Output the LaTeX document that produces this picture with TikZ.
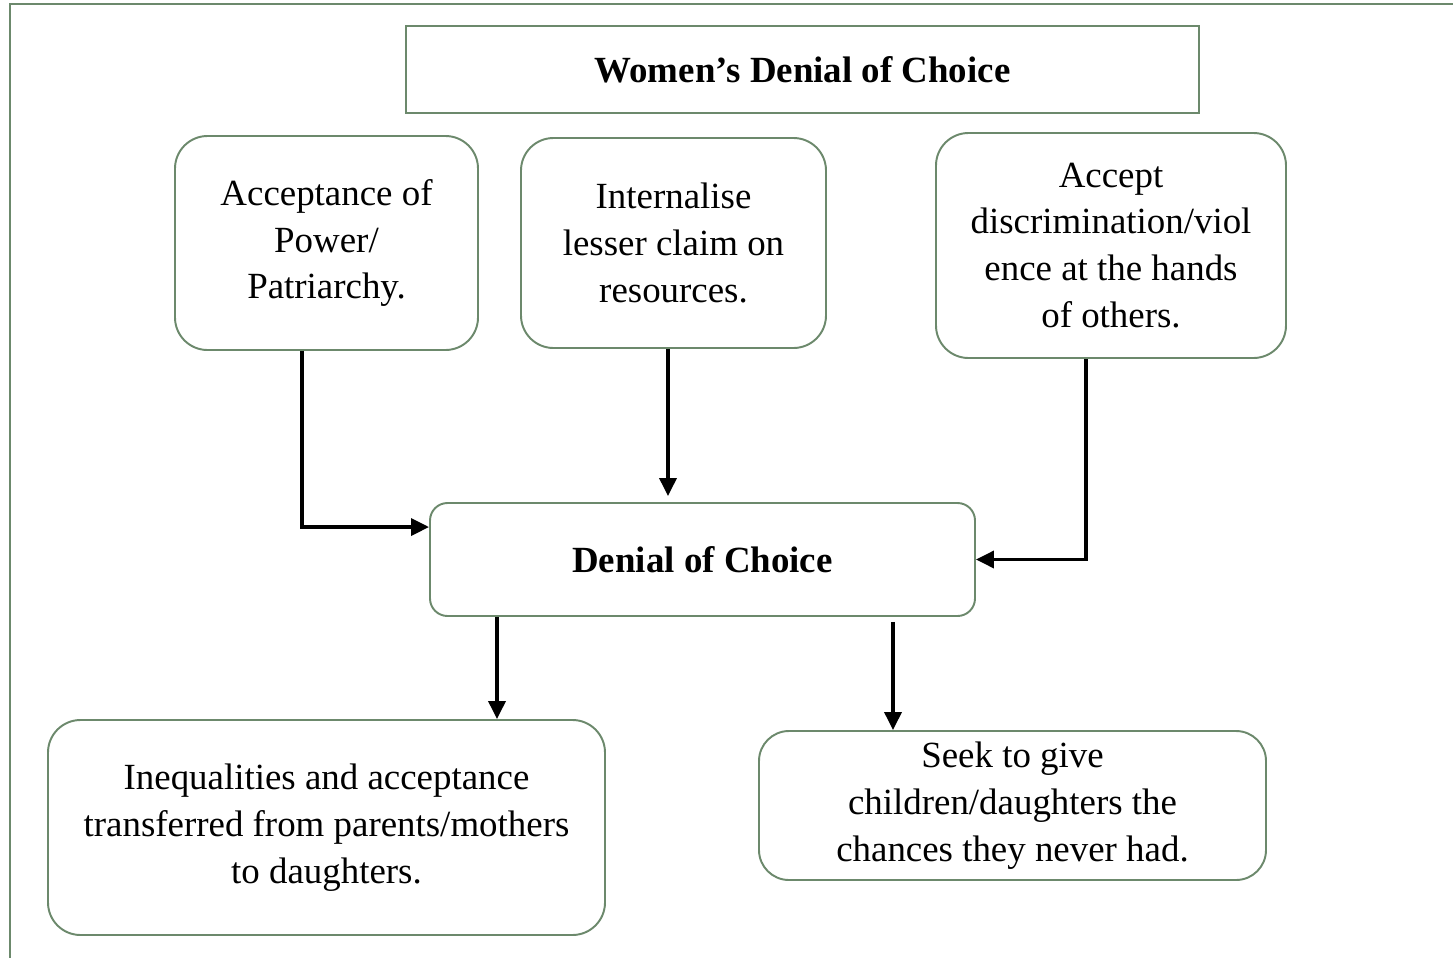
\documentclass[tikz,border=0pt]{standalone}
\usepackage{fontspec}
\setmainfont{Liberation Serif}
\usepackage{tikz}
\usetikzlibrary{arrows.meta,positioning,calc}
\definecolor{boxgreen}{RGB}{108,137,108}

\begin{document}
\begin{tikzpicture}[
		box/.style={draw=boxgreen, line width=1.1pt, rounded corners=0.65cm, align=center, inner sep=0pt,
			font=\fontsize{21}{26.7}\selectfont},
		titlebox/.style={draw=boxgreen, line width=1.1pt, align=center, inner sep=0pt,
			font=\fontsize{21}{26.7}\selectfont\bfseries},
		arr/.style={line width=2pt, -{Triangle[length=0.36cm,width=0.34cm]}}
	]
			\useasboundingbox (0,0) rectangle (29.06,-19.16);
			\draw[boxgreen, line width=1.1pt] (29.06,-0.08) -- (0.2,-0.08) -- (0.2,-19.16);

			\node[titlebox, minimum width=15.86cm, minimum height=1.74cm] (T) at (16.05,-1.39) {Women’s Denial of Choice};
			\node[box, minimum width=6.06cm, minimum height=4.28cm] (A) at (6.53,-4.86) {Acceptance of\\Power/\\Patriarchy.};
			\node[box, minimum width=6.10cm, minimum height=4.20cm] (B) at (13.47,-4.86) {Internalise\\lesser claim on\\resources.};
			\node[box, minimum width=7.00cm, minimum height=4.50cm] (C) at (22.22,-4.91) {Accept\\discrimination/viol\\ence at the hands\\of others.};
			\node[titlebox, rounded corners=0.35cm, minimum width=10.9cm, minimum height=2.26cm] (den) at (14.05,-11.19) {Denial of Choice};
			\node[box, minimum width=11.14cm, minimum height=4.30cm] (D) at (6.53,-16.55) {Inequalities and acceptance\\transferred from parents/mothers\\to daughters.};
			\node[box, rounded corners=0.6cm, minimum width=10.14cm, minimum height=2.98cm] (E) at (20.25,-16.11) {Seek to give\\children/daughters the\\chances they never had.};

			\draw[arr] ([xshift=-0.49cm]A.south) |- ([yshift=-0.5cm]den.north west);
			\draw[arr] ([xshift=-0.11cm]B.south) -- ([xshift=-0.11cm,yshift=0.12cm]B.south |- den.north);
			\draw[arr] ([xshift=-0.5cm]C.south) |- (den.east);
			\draw[arr] ([xshift=-4.11cm]den.south) -- ([xshift=-4.11cm]den.south |- D.north);
			\draw[arr] ([xshift=3.81cm,yshift=-0.1cm]den.south) -- ([xshift=3.81cm]den.south |- E.north);
		\end{tikzpicture}
\end{document}
